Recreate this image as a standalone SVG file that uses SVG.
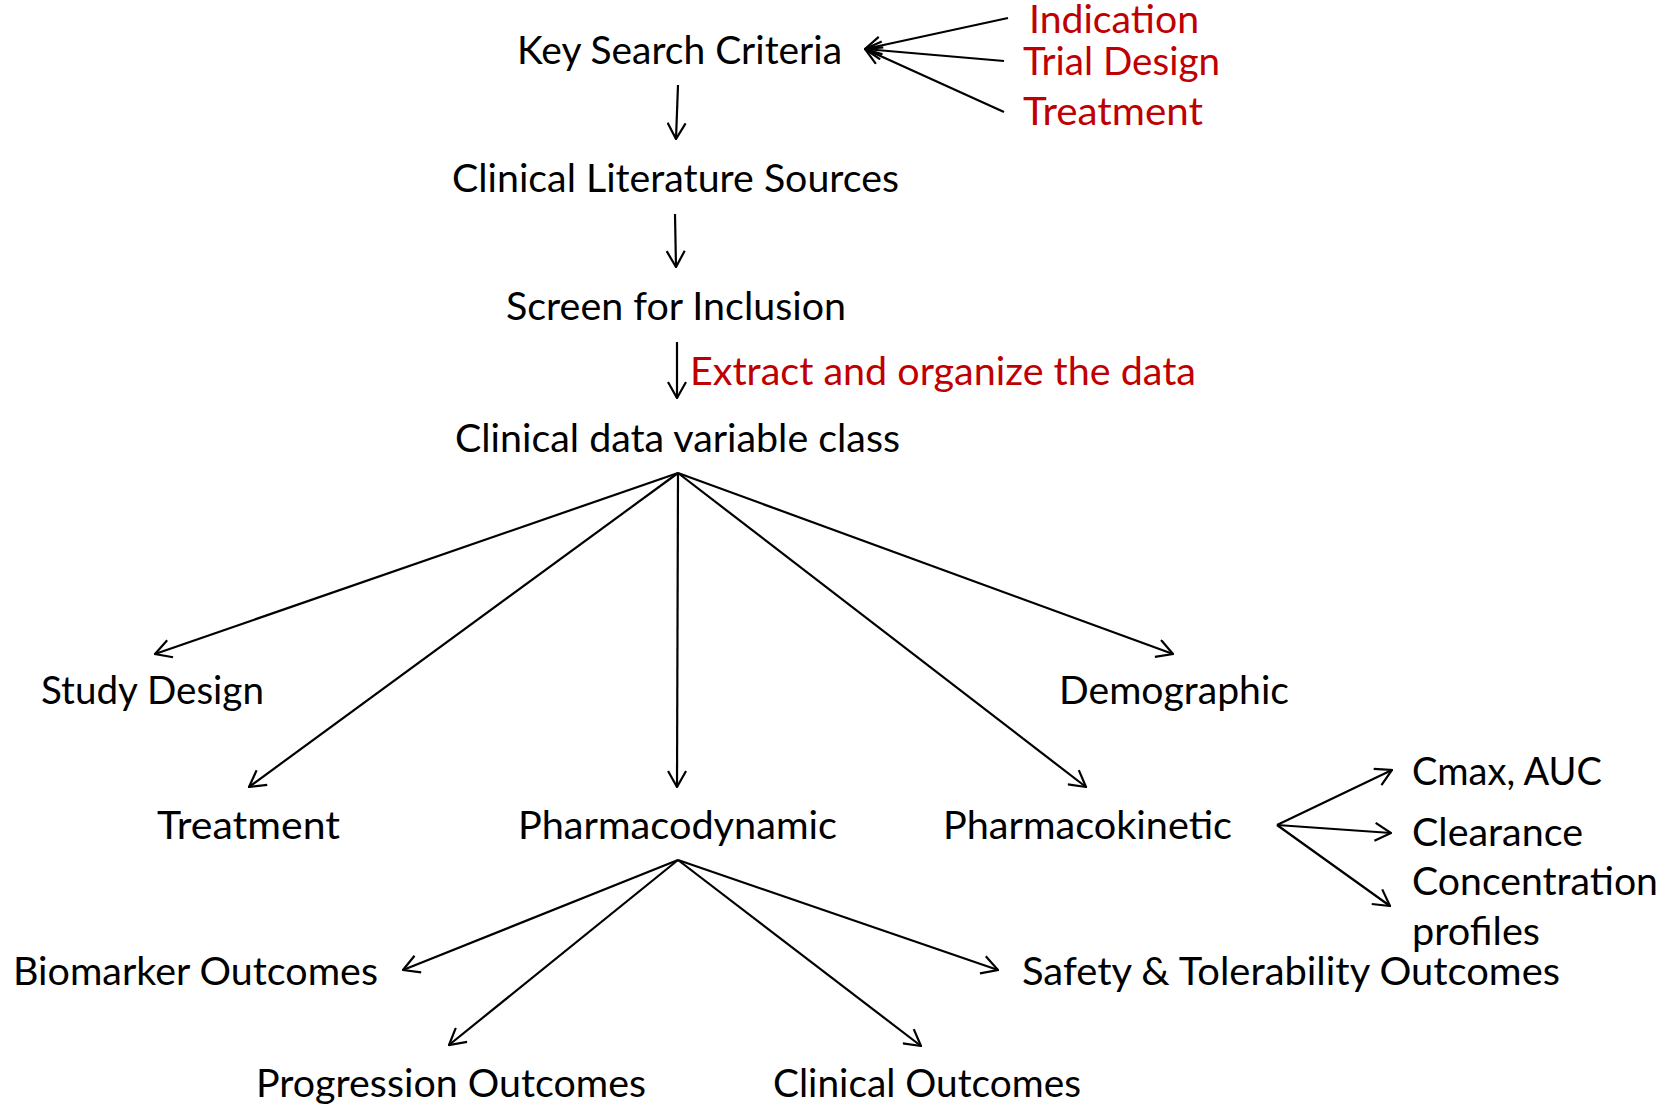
<svg xmlns="http://www.w3.org/2000/svg" width="1675" height="1104" viewBox="0 0 1675 1104">
<style>
text{font-family:Lato,"Open Sans","Liberation Sans",sans-serif;font-size:38px;fill:#000}
.red{fill:#C00000}
.c line{stroke:#000;stroke-width:2.2;fill:none;marker-end:url(#ah)}
</style>
<defs>
<marker id="ah" viewBox="0 0 18 20" refX="17" refY="10" markerWidth="18" markerHeight="20" markerUnits="userSpaceOnUse" orient="auto">
<path d="M1,1 L17,10 L1,19" fill="none" stroke="#000" stroke-width="2.2"/>
</marker>
</defs>
<rect width="1675" height="1104" fill="#fff"/>
<g id="n-key"><text x="517" y="64" textLength="325" lengthAdjust="spacingAndGlyphs">Key Search Criteria</text></g>
<g id="n-indication"><text class="red" x="1029" y="33" textLength="170" lengthAdjust="spacingAndGlyphs">Indication</text></g>
<g id="n-trialdesign"><text class="red" x="1023" y="75" textLength="197" lengthAdjust="spacingAndGlyphs">Trial Design</text></g>
<g id="n-treatment-red"><text class="red" x="1023" y="125" textLength="180" lengthAdjust="spacingAndGlyphs">Treatment</text></g>
<g id="n-lit"><text x="452" y="192" textLength="447" lengthAdjust="spacingAndGlyphs">Clinical Literature Sources</text></g>
<g id="n-screen"><text x="506" y="320" textLength="340" lengthAdjust="spacingAndGlyphs">Screen for Inclusion</text></g>
<g id="n-extract"><text class="red" x="690" y="385" textLength="506" lengthAdjust="spacingAndGlyphs">Extract and organize the data</text></g>
<g id="n-class"><text x="455" y="452" textLength="445" lengthAdjust="spacingAndGlyphs">Clinical data variable class</text></g>
<g id="n-study"><text x="41" y="704" textLength="223" lengthAdjust="spacingAndGlyphs">Study Design</text></g>
<g id="n-demo"><text x="1059" y="704" textLength="230" lengthAdjust="spacingAndGlyphs">Demographic</text></g>
<g id="n-treatment"><text x="157" y="839" textLength="183" lengthAdjust="spacingAndGlyphs">Treatment</text></g>
<g id="n-pd"><text x="518" y="839" textLength="319" lengthAdjust="spacingAndGlyphs">Pharmacodynamic</text></g>
<g id="n-pk"><text x="943" y="839" textLength="289" lengthAdjust="spacingAndGlyphs">Pharmacokinetic</text></g>
<g id="n-cmax"><text x="1412" y="785" textLength="190" lengthAdjust="spacingAndGlyphs">Cmax, AUC</text></g>
<g id="n-clearance"><text x="1412" y="846" textLength="171" lengthAdjust="spacingAndGlyphs">Clearance</text></g>
<g id="n-conc"><text x="1412" y="895" textLength="246" lengthAdjust="spacingAndGlyphs">Concentration</text><text x="1412" y="945" textLength="128" lengthAdjust="spacingAndGlyphs">profiles</text></g>
<g id="n-bio"><text x="13" y="985" textLength="365" lengthAdjust="spacingAndGlyphs">Biomarker Outcomes</text></g>
<g id="n-safety"><text x="1022" y="985" textLength="538" lengthAdjust="spacingAndGlyphs">Safety &amp; Tolerability Outcomes</text></g>
<g id="n-prog"><text x="256" y="1097" textLength="390" lengthAdjust="spacingAndGlyphs">Progression Outcomes</text></g>
<g id="n-clin"><text x="773" y="1097" textLength="308" lengthAdjust="spacingAndGlyphs">Clinical Outcomes</text></g>
<g id="connectors" class="c">
<line x1="1008" y1="18" x2="865" y2="49"/>
<line x1="1004" y1="61" x2="865" y2="49"/>
<line x1="1004" y1="112" x2="865" y2="49"/>
<line x1="678" y1="85" x2="676" y2="139"/>
<line x1="675" y1="214" x2="676" y2="267"/>
<line x1="677" y1="342" x2="677" y2="398"/>
<line x1="678" y1="473" x2="155" y2="654"/>
<line x1="678" y1="473" x2="249" y2="787"/>
<line x1="678" y1="473" x2="677" y2="787"/>
<line x1="678" y1="473" x2="1086" y2="787"/>
<line x1="678" y1="473" x2="1173" y2="654"/>
<line x1="1277" y1="825" x2="1392" y2="770"/>
<line x1="1277" y1="825" x2="1391" y2="833"/>
<line x1="1277" y1="825" x2="1390" y2="906"/>
<line x1="678" y1="860" x2="403" y2="970"/>
<line x1="678" y1="860" x2="449" y2="1045"/>
<line x1="678" y1="860" x2="921" y2="1046"/>
<line x1="678" y1="860" x2="998" y2="970"/>
</g>
</svg>
